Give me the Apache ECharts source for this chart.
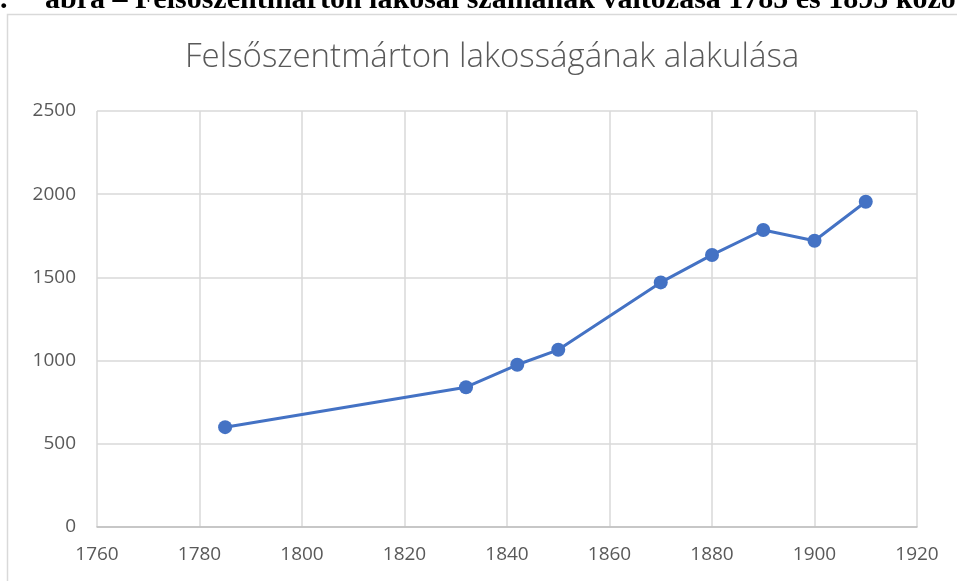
<!DOCTYPE html>
<html>
<head>
<meta charset="utf-8">
<script src="https://cdn.jsdelivr.net/npm/echarts@6/dist/echarts.min.js"></script>
<style>
  html, body { margin: 0; padding: 0; background: #fff; }
  #main { width: 957px; height: 581px; }
</style>
</head>
<body>
<div id="main"></div>
<script>
// lakosság adatai
const years = [1785, 1832, 1842, 1850, 1870, 1880, 1890, 1900, 1910]
const population = [600, 840, 975, 1065, 1470, 1635, 1785, 1720, 1955]
const titleText = 'Felsőszentmárton lakosságának alakulása'
const captionText = 'ábra – Felsőszentmárton lakosai számának változása 1785 és 1895 közötti'

const labelFont = {
  color: '#595959',
  fontFamily: 'Open Sans',
  fontSize: 19,
  formatter: v => String(v)
}

const captionStyle = {
  fontFamily: 'Liberation Serif',
  fontWeight: 'bold',
  fontSize: 30,
  fill: '#000',
  verticalAlign: 'middle'
}

let option = {
  animation: false,
  title: {
    text: titleText,
    left: 180,
    top: 36,
    textStyle: {
      color: '#595959',
      fontFamily: 'Open Sans',
      fontWeight: 300,
      fontSize: 33
    }
  },
  graphic: [
    {
      type: 'rect',
      left: 5,
      top: 12,
      shape: { width: 1000, height: 1000 },
      style: { fill: 'none', stroke: '#d9d9d9', lineWidth: 1.5 },
      silent: true
    },
    {
      type: 'text',
      x: 0,
      y: 0,
      style: Object.assign({ text: '.' }, captionStyle)
    },
    {
      type: 'text',
      x: 45,
      y: 0,
      style: Object.assign({ text: captionText }, captionStyle)
    }
  ],
  grid: {
    left: 97,
    right: 40,
    top: 111,
    bottom: 54
  },
  xAxis: {
    type: 'value',
    min: 1760,
    max: 1920,
    interval: 20,
    axisLine: { show: true, lineStyle: { color: '#bfbfbf', width: 1.5 } },
    axisTick: { show: false },
    axisLabel: Object.assign({ margin: 18 }, labelFont),
    splitLine: { show: true, lineStyle: { color: '#d9d9d9', width: 1.5 } }
  },
  yAxis: {
    type: 'value',
    min: 0,
    max: 2500,
    interval: 500,
    axisLine: { show: false },
    axisTick: { show: false },
    axisLabel: Object.assign({ margin: 21 }, labelFont),
    splitLine: { show: true, lineStyle: { color: '#d9d9d9', width: 1.5 } }
  },
  series: [
    {
      type: 'line',
      data: years.map((y, i) => [y, population[i]]),
      symbol: 'circle',
      symbolSize: 14,
      itemStyle: { color: '#4472c4' },
      lineStyle: { color: '#4472c4', width: 3 }
    }
  ]
}

const myChart = echarts.init(document.getElementById('main'))
myChart.setOption(option, true)
</script>
</body>
</html>
